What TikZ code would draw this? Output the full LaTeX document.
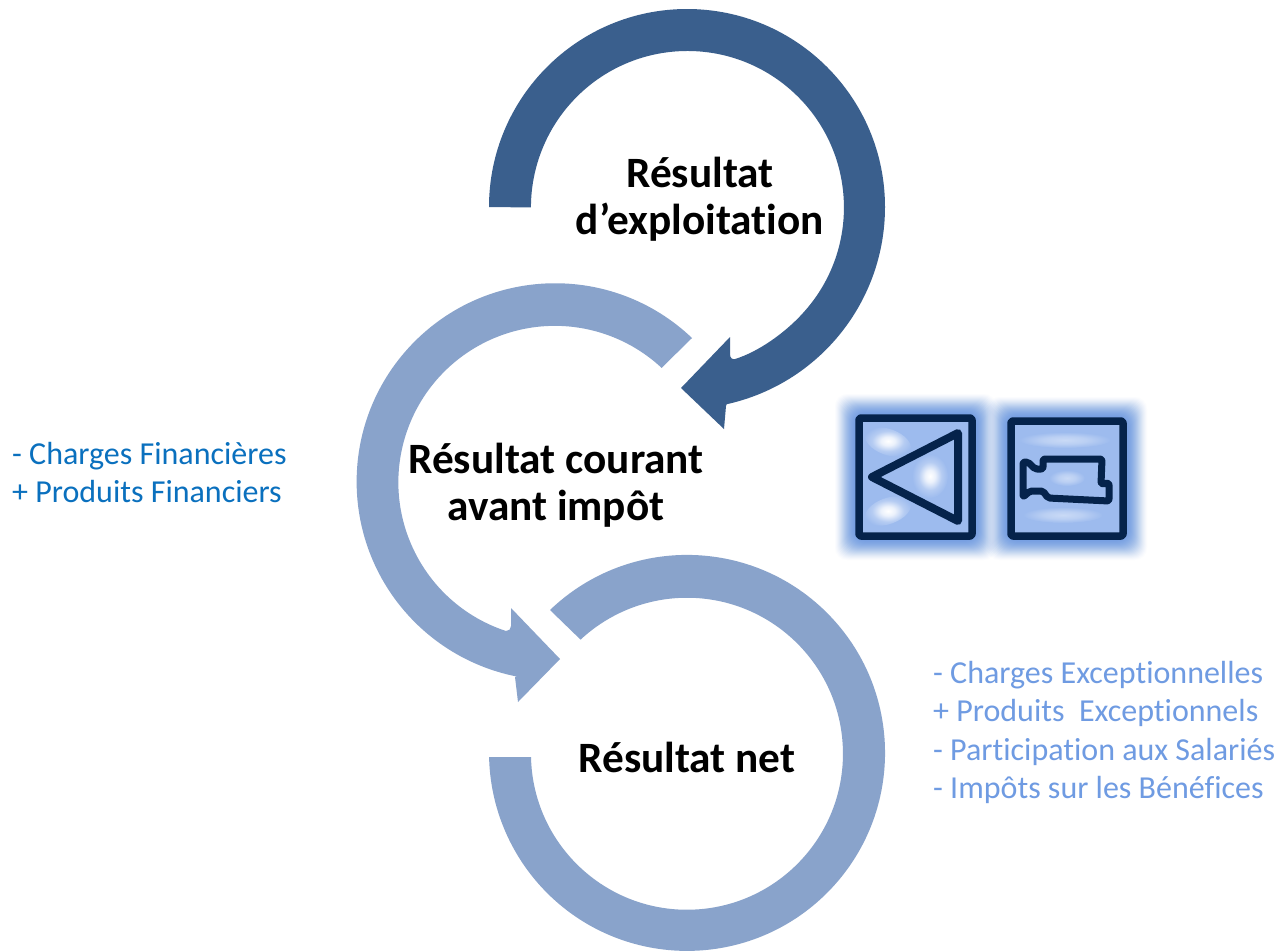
\documentclass[tikz,border=0pt]{standalone}
\usepackage{fontspec}
\setmainfont[Ligatures={NoCommon}]{Carlito}
\definecolor{dk}{HTML}{3A5F8D}
\definecolor{lt}{HTML}{89A3CB}
\definecolor{nav}{HTML}{05234B}
\definecolor{iconbg}{HTML}{9DBBEE}
\definecolor{blueA}{HTML}{0A70BE}
\definecolor{blueB}{HTML}{6F9BE2}
\pgfdeclareradialshading{blob}{\pgfpointorigin}{color(0bp)=(white); color(7bp)=(white!80!iconbg); color(16bp)=(white!25!iconbg); color(25bp)=(iconbg); color(50bp)=(iconbg)}
\pgfdeclareradialshading{softblob}{\pgfpointorigin}{color(0bp)=(white!45!iconbg); color(12bp)=(white!30!iconbg); color(25bp)=(iconbg); color(50bp)=(iconbg)}
\tikzset{
 titre/.style={font=\bfseries\fontsize{43.3}{47}\selectfont,align=center,text=black,inner sep=0pt},
 noteA/.style={font=\fontsize{32}{38.5}\selectfont,align=left,text=blueA,anchor=north west,inner sep=0pt},
 noteB/.style={font=\fontsize{32}{38.5}\selectfont,align=left,text=blueB,anchor=north west,inner sep=0pt},
 icoline/.style={draw=nav,line width=7.5pt,rounded corners=2pt,line join=round},
 glowstep/.style={fill=blueB,rounded corners=12pt}
}
\begin{document}
\begin{tikzpicture}[x=1pt,y=-1pt,line cap=butt]
\useasboundingbox (0,0) rectangle (1280,951);
\fill[white] (0,0) rectangle (1280,951);
% top ring
\fill[dk] (489,207) arc[start angle=180,end angle=360,radius=198]
  arc[start angle=0,end angle=77.5,radius=202]
  -- (726,406) -- (724,429) -- (681,388) -- (730,337) -- (730,354)
  .. controls (730,358) and (732,359.5) .. (735,359)
  .. controls (758,352) and (785,333) .. (803,313)
  arc[start angle=42.4,end angle=-180,radius=156.5] -- (489,207) -- cycle;
% middle ring
\fill[lt] (692,338) arc[start angle=-46.4,end angle=-259,radius=198.5]
  -- (515,677) -- (518,702) -- (560,659) -- (511,608) -- (511,626)
  .. controls (511,629) and (509,631) .. (506,631)
  arc[start angle=108.2,end angle=313,radius=156.5] -- cycle;
% bottom ring
\fill[lt] (550,610) arc[start angle=-133.8,end angle=178.8,radius=198]
  -- (531,757) arc[start angle=178.8,end angle=-133,radius=156] -- cycle;
\node[titre] (t1) at (700,199) {Résultat\\d’exploitation};
\node[titre] (t2) at (556,485) {Résultat courant\\avant impôt};
\node[titre] (t3) at (687,757) {Résultat net};
\node[noteA] (n1) at (12,442) {- Charges Financières\\+ Produits Financiers};
\node[noteB] (n2) at (933,661) {- Charges Exceptionnelles\\+ Produits\ \ Exceptionnels\\- Participation aux Salariés\\- Impôts sur les Bénéfices};
% glow
\foreach \g in {20,19,...,1}{
 \pgfmathsetmacro{\op}{0.025+0.2*(1-\g/20)^1.1}
 \fill[glowstep,fill opacity=\op] (855-\g,414-\g) rectangle (976+\g,540+\g);
 \fill[glowstep,fill opacity=\op] (1007-\g,417-\g) rectangle (1127+\g,540+\g);
}
% icon 1
\fill[iconbg] (859,418) rectangle (972,536);
\shade[shading=blob,rotate around={-20:(888,442)}] (888,442) ellipse[x radius=24pt,y radius=13pt];
\shade[shading=blob] (930,476) ellipse[x radius=18pt,y radius=22pt];
\shade[shading=blob,rotate around={20:(888,511)}] (888,511) ellipse[x radius=24pt,y radius=13pt];
\draw[icoline] (859,418) rectangle (972,536);
\draw[draw=nav,line width=8pt,line join=round] (872,477) -- (958,433) -- (958,521) -- cycle;
% icon 2
\fill[iconbg] (1011,421) rectangle (1123,536);
\shade[shading=softblob] (1065,440) ellipse[x radius=46pt,y radius=8pt];
\shade[shading=softblob] (1063,515) ellipse[x radius=40pt,y radius=8pt];
\shade[shading=softblob] (1067,478) ellipse[x radius=18pt,y radius=8pt];
\draw[icoline] (1011,421) rectangle (1123,536);
\draw[draw=nav,line width=7pt,line join=round,rounded corners=2pt]
 (1023,462) -- (1028,462) -- (1035,469) -- (1043,469) -- (1043,459) -- (1102,459) -- (1101,484) -- (1109,483) -- (1109,501) -- (1048,498) -- (1043,491) -- (1030,491) -- (1023,497) -- cycle;
\end{tikzpicture}
\end{document}
